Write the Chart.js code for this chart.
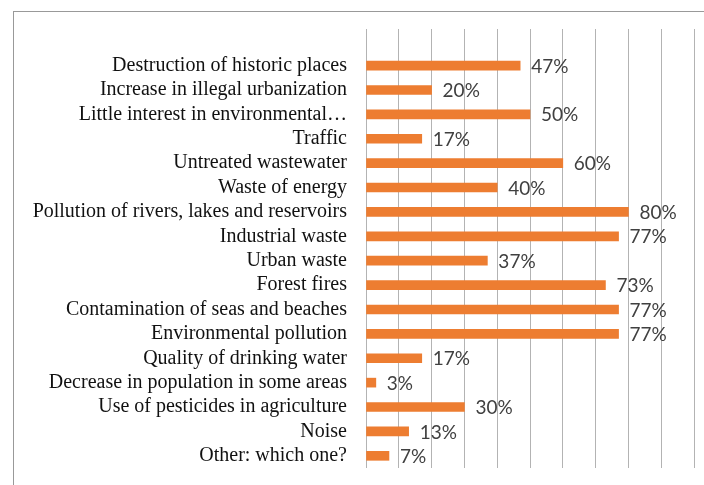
<!DOCTYPE html>
<html>
<head>
<meta charset="utf-8">
<script src="https://cdn.jsdelivr.net/npm/chart.js@4/dist/chart.umd.min.js"></script>
<style>
  html, body { margin: 0; padding: 0; background: #fff; }
  #wrap { position: relative; width: 704px; height: 485px; }
  #frame { position: absolute; left: 13px; top: 11px; right: 0; bottom: 0; border-left: 1px solid #999; border-top: 1px solid #999; pointer-events: none; }
  canvas { position: absolute; left: 0; top: 0; }
</style>
</head>
<body>
<div id="wrap">
  <canvas id="c" width="704" height="485"></canvas>
  <div id="frame"></div>
</div>
<script>
// Categories (top to bottom); first entry is the empty top slot of the original axis
const categories = [
  "",
  "Destruction of historic places",
  "Increase in illegal urbanization",
  "Little interest in environmental…",
  "Traffic",
  "Untreated wastewater",
  "Waste of energy",
  "Pollution of rivers, lakes and reservoirs",
  "Industrial waste",
  "Urban waste",
  "Forest fires",
  "Contamination of seas and beaches",
  "Environmental pollution",
  "Quality of drinking water",
  "Decrease in population in some areas",
  "Use of pesticides in agriculture",
  "Noise",
  "Other: which one?"
];
const percentages = [null, 47, 20, 50, 17, 60, 40, 80, 77, 37, 73, 77, 77, 17, 3, 30, 13, 7];
const axisMin = 0;
const axisMax = 100;
const axisStep = 10;

const valueLabels = {
  id: 'valueLabels',
  afterDatasetsDraw(chart) {
    const ctx = chart.ctx;
    const meta = chart.getDatasetMeta(0);
    ctx.save();
    ctx.font = '19px Lato, "Open Sans", sans-serif';
    ctx.fillStyle = '#404040';
    ctx.textAlign = 'left';
    ctx.textBaseline = 'middle';
    meta.data.forEach((bar, i) => {
      const v = chart.data.datasets[0].data[i];
      if (v === null || v === undefined) return;
      ctx.fillText(v + '%', bar.x + 11, bar.y + 1);
    });
    ctx.restore();
  }
};

new Chart(document.getElementById('c'), {
  type: 'bar',
  data: {
    labels: categories,
    datasets: [{
      data: percentages,
      backgroundColor: '#ED7D31',
      borderWidth: 0,
      barThickness: 9
    }]
  },
  options: {
    indexAxis: 'y',
    responsive: false,
    animation: false,
    layout: { padding: { top: 29, right: 10, bottom: 17, left: 0 } },
    plugins: { legend: { display: false }, tooltip: { enabled: false } },
    scales: {
      x: {
        min: axisMin, max: axisMax,
        ticks: { display: false, stepSize: axisStep },
        grid: { color: '#b3b3b3', lineWidth: 1, drawTicks: false },
        border: { display: false }
      },
      y: {
        afterFit(scale) { scale.width = 366; scale.paddingTop = 0; scale.paddingBottom = 0; },
        ticks: {
          padding: 19,
          color: '#111',
          font: { family: '"Liberation Serif", "Times New Roman", serif', size: 20 },
          autoSkip: false
        },
        grid: { display: false, drawTicks: false },
        border: { display: false }
      }
    }
  },
  plugins: [valueLabels]
});
</script>
</body>
</html>
